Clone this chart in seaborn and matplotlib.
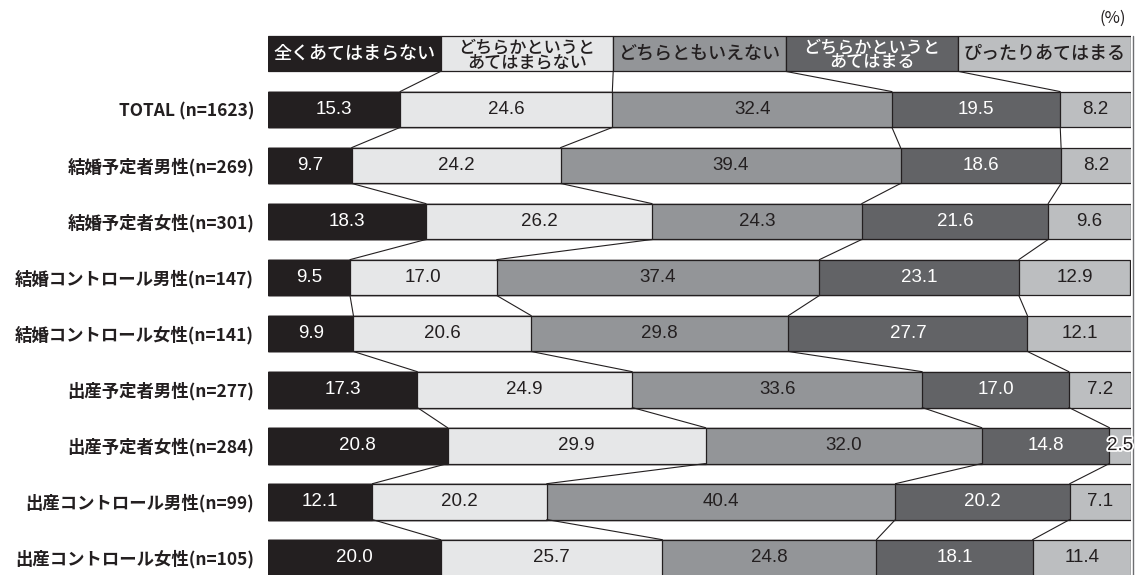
import matplotlib
matplotlib.use("Agg")
import matplotlib.pyplot as plt
import matplotlib.patheffects as pe
import numpy as np
import pandas as pd
import seaborn as sns

# ---- data ----
categories = ["全くあてはまらない", "どちらかというと\nあてはまらない", "どちらともいえない",
              "どちらかというと\nあてはまる", "ぴったりあてはまる"]
groups = ["TOTAL (n=1623)", "結婚予定者男性(n=269)", "結婚予定者女性(n=301)",
          "結婚コントロール男性(n=147)", "結婚コントロール女性(n=141)",
          "出産予定者男性(n=277)", "出産予定者女性(n=284)",
          "出産コントロール男性(n=99)", "出産コントロール女性(n=105)"]
s1 = [15.3, 9.7, 18.3, 9.5, 9.9, 17.3, 20.8, 12.1, 20.0]
s2 = [24.6, 24.2, 26.2, 17.0, 20.6, 24.9, 29.9, 20.2, 25.7]
s3 = [32.4, 39.4, 24.3, 37.4, 29.8, 33.6, 32.0, 40.4, 24.8]
s4 = [19.5, 18.6, 21.6, 23.1, 27.7, 17.0, 14.8, 20.2, 18.1]
s5 = [8.2, 8.2, 9.6, 12.9, 12.1, 7.2, 2.5, 7.1, 11.4]

colors = ["#231f20", "#e6e7e8", "#939598", "#626366", "#bcbec0"]
txt_colors = ["white", "#231f20", "#231f20", "white", "#231f20"]
edge = "#231f20"

sns.set_theme(style="white")
plt.rcParams["font.family"] = ["Noto Sans CJK JP", "DejaVu Sans"]

series = [s1, s2, s3, s4, s5]
vals = np.array(series).T  # rows x 5
cum = np.cumsum(vals, axis=1)

fig = plt.figure(figsize=(11.41, 5.75), dpi=100)
ax = fig.add_axes([268 / 1141, 0, 863 / 1141, 1])
H = 0.64

# stacked bars via seaborn: draw cumulative totals from largest to smallest
for k in range(4, -1, -1):
    d = pd.DataFrame({"group": groups, "v": cum[:, k]})
    sns.barplot(data=d, x="v", y="group", orient="h", color=colors[k],
                width=H, edgecolor=edge, linewidth=0.9, saturation=1,
                ax=ax, errorbar=None)

# legend row (row -1)
leg_w = 20.0
for k in range(5):
    ax.add_patch(plt.Rectangle((k * leg_w, -1 - H / 2), leg_w, H,
                               facecolor=colors[k], edgecolor=edge, linewidth=0.9))
    two = "\n" in categories[k]
    ax.text(k * leg_w + leg_w / 2, -1 + (0.02 if two else 0), categories[k],
            ha="center", va="center",
            color=txt_colors[k], fontsize=12.3 if two else 13,
            linespacing=0.78, fontweight="medium")

# value labels
for i in range(len(groups)):
    left = 0.0
    for k in range(5):
        v = vals[i, k]
        xc = left + v / 2
        kw = {}
        if v < 4:
            kw["path_effects"] = [pe.withStroke(linewidth=2.5, foreground="white")]
        ax.text(xc, i, f"{v:.1f}", ha="center", va="center", color=txt_colors[k],
                fontsize=13.5, family=["Liberation Sans", "DejaVu Sans"], **kw)
        left += v

# connecting lines
leg_b = np.arange(1, 5) * leg_w
for j in range(4):
    ax.plot([leg_b[j], cum[0, j]], [-1 + H / 2, 0 - H / 2], color=edge, lw=0.8)
for i in range(len(groups) - 1):
    for j in range(4):
        ax.plot([cum[i, j], cum[i + 1, j]], [i + H / 2, i + 1 - H / 2], color=edge, lw=0.8)

# right border line
ax.plot([100.2, 100.2], [-1 - H / 2, 8.4], color="#6d6e71", lw=1.0, clip_on=False)

ax.set_xlim(0, 100)
ax.set_ylim(8.31, -1.955)
ax.set_xlabel("")
ax.set_ylabel("")
ax.set_xticks([])
ax.set_yticks(range(len(groups)))
ax.set_yticklabels(groups, fontsize=12.5, fontweight="bold", color="#231f20")
ax.tick_params(axis="y", length=0, pad=10)
for s in ax.spines.values():
    s.set_visible(False)
ax.patch.set_alpha(0)

fig.text(1126 / 1141, 1 - 18 / 575, "(%)", ha="right", va="center", fontsize=12,
         color="#231f20")

fig.savefig("out.png", dpi=100)
